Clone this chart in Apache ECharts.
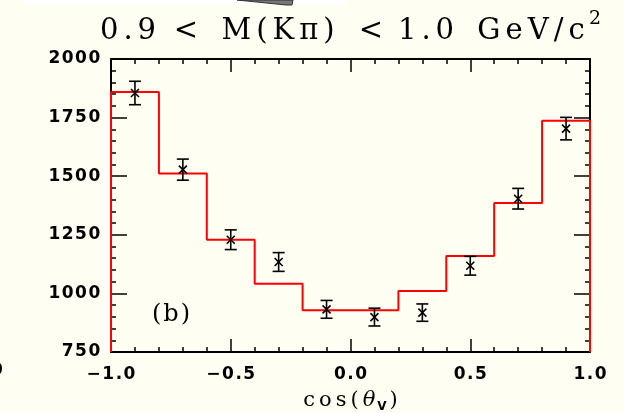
<!DOCTYPE html>
<html>
<head>
<meta charset="utf-8">
<script src="https://cdn.jsdelivr.net/npm/echarts@6/dist/echarts.min.js"></script>
<style>
  html, body { margin: 0; padding: 0; background: #fefef2; }
  #chart { width: 624px; height: 413px; }
</style>
</head>
<body>
<div id="chart"></div>
<script>
// Bin edges of the cos(theta_V) histogram and the fitted content of each bin
const binEdges = [-1.0, -0.8, -0.6, -0.4, -0.2, 0.0, 0.2, 0.4, 0.6, 0.8, 1.0];
const fitValues = [1859, 1511, 1229, 1041, 928, 928, 1010, 1160, 1386, 1737];

// Measured points: bin centres, counts and symmetric errors
const pointX = [-0.9, -0.7, -0.5, -0.3, -0.1, 0.1, 0.3, 0.5, 0.7, 0.9];
const pointY = [1855, 1528, 1229, 1134, 932, 899, 918, 1118, 1404, 1703];
const pointErr = [50, 45, 42, 40, 38, 38, 37, 40, 44, 48];

// Axis ranges and tick spacing
const xRange = [-1.0, 1.0];
const xStep = 0.5;
const yRange = [750, 2000];
const yStep = 250;

// Title pieces, spread out the way the plot header sets them
const titleTokens = ['0.9', '<', 'M(K\u03c0)', '<', '1.0', 'GeV/c'];
const titleCenters = [128, 186, 278, 371, 426, 531];

// Step outline of the fit, closed down to the axis at both ends
const histData = [[binEdges[0], yRange[0]]];
for (let i = 0; i < fitValues.length; i++) histData.push([binEdges[i], fitValues[i]]);
histData.push([binEdges[binEdges.length - 1], fitValues[fitValues.length - 1]]);
histData.push([binEdges[binEdges.length - 1], yRange[0]]);

const pointData = pointX.map((x, i) => [x, pointY[i], pointErr[i]]);

// Wrap every character in its own rich segment so the glyphs get a little extra room
function spread(str, style) {
  return str.split('').map(ch => '{' + style + '|' + ch + '}').join('');
}

const tickRich = {
  d: { fontFamily: 'DejaVu Sans', fontSize: 17, fontWeight: 'bold', color: '#000', padding: [0, 0.75, 0, 0.75] }
};
const fmtX = v => spread((v < 0 ? '\u2212' : '') + Math.abs(v).toFixed(1), 'd');
const fmtY = v => spread(String(Math.round(v)), 'd');

const tickStyle = { color: '#000', width: 1.5 };
const axisCommon = {
  axisLine: { show: true, onZero: false, lineStyle: { color: '#000', width: 2 } },
  splitLine: { show: false },
  minorSplitLine: { show: false }
};
function xAxisDef(pos, labelled) {
  return Object.assign({
    type: 'value', position: pos, min: xRange[0], max: xRange[1], interval: xStep,
    axisTick: { show: true, inside: true, length: 13, lineStyle: tickStyle },
    minorTick: { show: true, splitNumber: 5, length: 5, lineStyle: tickStyle },
    axisLabel: labelled ? { margin: 14, formatter: fmtX, rich: tickRich } : { show: false }
  }, axisCommon);
}
function yAxisDef(pos, labelled) {
  return Object.assign({
    type: 'value', position: pos, min: yRange[0], max: yRange[1], interval: yStep,
    axisTick: { show: true, inside: true, length: 16, lineStyle: tickStyle },
    minorTick: { show: true, splitNumber: 5, length: 5, lineStyle: tickStyle },
    axisLabel: labelled ? { margin: 10, formatter: fmtY, rich: tickRich } : { show: false }
  }, axisCommon);
}

const xMain = xAxisDef('bottom', true);
xMain.name = spread('cos(', 't') + '{th|\u03b8}{sub|V}{t|)}';
xMain.nameLocation = 'middle';
xMain.nameGap = 37;
xMain.nameTextStyle = {
  rich: {
    t: { fontFamily: 'DejaVu Serif', fontSize: 21, color: '#000', padding: [0, 2, 0, 2] },
    th: { fontFamily: 'DejaVu Serif', fontStyle: 'italic', fontSize: 21, color: '#000', padding: [0, 2, 0, 2] },
    sub: { fontFamily: 'DejaVu Sans', fontSize: 12, fontWeight: 'bold', color: '#000', padding: [12, 1, 0, 0] }
  }
};

const titleRich = {
  c: { fontFamily: 'DejaVu Serif', fontSize: 29, color: '#000', padding: [0, 2.5, 0, 2.5] }
};
const titleGraphics = titleTokens.map((tok, i) => ({
  type: 'text', x: titleCenters[i], y: 31,
  style: { text: spread(tok, 'c'), rich: titleRich, align: 'center', verticalAlign: 'middle' }
}));
titleGraphics.push({
  type: 'text', x: 589, y: 19,
  style: { text: '2', fontFamily: 'DejaVu Serif', fontSize: 19, fill: '#000', align: 'left', verticalAlign: 'middle' }
});

const chart = echarts.init(document.getElementById('chart'), null, { renderer: 'canvas' });
chart.setOption({
  backgroundColor: '#fefef2',
  animation: false,
  grid: { left: 111, right: 34, top: 59, bottom: 61, outerBoundsMode: 'none', containLabel: false },
  xAxis: [xMain, xAxisDef('top', false)],
  yAxis: [yAxisDef('left', true), yAxisDef('right', false)],
  series: [
    {
      name: 'fit', type: 'line', step: 'end', data: histData,
      xAxisIndex: 0, yAxisIndex: 0, symbol: 'none', z: 5,
      lineStyle: { color: '#ff0000', width: 2 }
    },
    {
      name: 'data', type: 'custom', data: pointData, xAxisIndex: 0, yAxisIndex: 0, z: 6,
      renderItem: function (params, api) {
        const x = api.value(0), y = api.value(1), e = api.value(2);
        const c = api.coord([x, y]);
        const hi = api.coord([x, y + e]);
        const lo = api.coord([x, y - e]);
        const cap = 6, m = 4;
        const st = { stroke: '#000', lineWidth: 1.6 };
        return {
          type: 'group',
          children: [
            { type: 'line', shape: { x1: c[0], y1: hi[1], x2: c[0], y2: lo[1] }, style: st },
            { type: 'line', shape: { x1: c[0] - cap, y1: hi[1], x2: c[0] + cap, y2: hi[1] }, style: st },
            { type: 'line', shape: { x1: c[0] - cap, y1: lo[1], x2: c[0] + cap, y2: lo[1] }, style: st },
            { type: 'line', shape: { x1: c[0] - m, y1: c[1] - m, x2: c[0] + m, y2: c[1] + m }, style: st },
            { type: 'line', shape: { x1: c[0] - m, y1: c[1] + m, x2: c[0] + m, y2: c[1] - m }, style: st }
          ]
        };
      }
    }
  ],
  graphic: titleGraphics.concat([
    { type: 'text', x: 171, y: 315,
      style: { text: spread('(b)', 'p'), align: 'center', verticalAlign: 'middle',
        rich: { p: { fontFamily: 'DejaVu Serif', fontSize: 24, color: '#000', padding: [0, 1, 0, 1] } } } },
    { type: 'text', x: -9, y: 371,
      style: { text: '0', fontFamily: 'DejaVu Sans', fontSize: 17, fontWeight: 'bold', fill: '#000', verticalAlign: 'middle' } },
    { type: 'rect', shape: { x: 23, y: 0, width: 324, height: 5 }, style: { fill: '#ffffff' } },
    { type: 'polygon', shape: { points: [[237, 0], [293, 0], [292, 5], [286, 5]] },
      style: { fill: '#777777', stroke: '#333333', lineWidth: 1 } }
  ])
});
</script>
</body>
</html>
